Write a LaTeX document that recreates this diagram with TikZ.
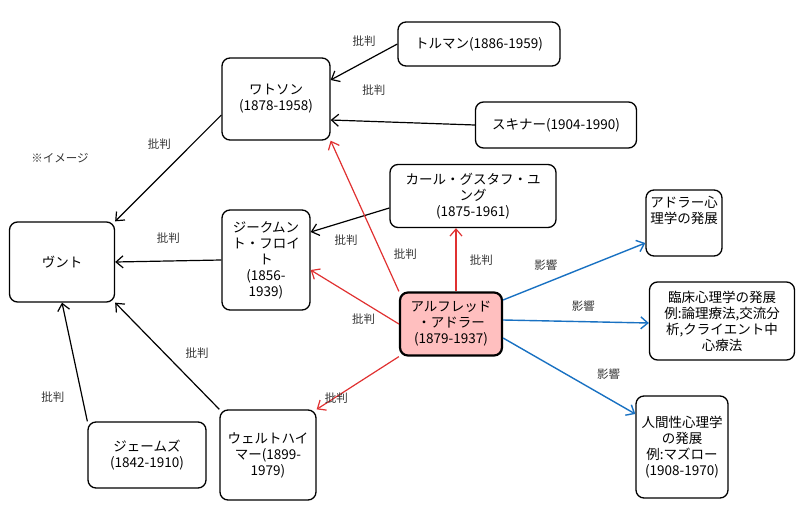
\documentclass[tikz,border=0pt]{standalone}
\usepackage{fontspec}
\setmainfont{Noto Sans CJK JP}
\usetikzlibrary{arrows.meta}
\definecolor{critred}{HTML}{E03131}
\definecolor{inflblue}{HTML}{1971C2}
\begin{document}
\begin{tikzpicture}[
    x=1pt, y=-1pt,
    font=\fontsize{13.5}{16}\selectfont,
    block/.style={rectangle, draw, line width=1.3pt, rounded corners=8pt, align=center, inner sep=2pt},
    main/.style={block, line width=2.2pt, fill=red!25},
    arrow/.style={-{Straight Barb[length=7pt,width=12pt]}, line width=1.2pt},
    crit/.style={arrow, critred},
    infl/.style={arrow, line width=1.4pt, inflblue},
    lbl/.style={font=\fontsize{11.5}{13}\selectfont, text=black!80}
]
\useasboundingbox (0,0) rectangle (800,508);
\node[block, minimum width=105pt, minimum height=80pt] (wundt) at (62,262) {ヴント};
\node[block, minimum width=108pt, minimum height=82pt] (watson) at (276,99) {ワトソン\\(1878-1958)};
\node[block, minimum width=162pt, minimum height=44pt] (tolman) at (479,44) {トルマン(1886-1959)};
\node[block, minimum width=161pt, minimum height=46pt] (skinner) at (556,125) {スキナー(1904-1990)};
\node[block, minimum width=88pt, minimum height=100pt] (freud) at (266,260) {ジークムン\\ト・フロイ\\ト\\(1856-\\1939)};
\node[block, minimum width=166pt, minimum height=63pt] (jung) at (473,196) {カール・グスタフ・ユ\\ング\\(1875-1961)};
\node[main, minimum width=102pt, minimum height=63pt] (adler) at (451,324) {アルフレッド\\・アドラー\\(1879-1937)};
\node[block, minimum width=76pt, minimum height=66pt] (apsy) at (684,223) {アドラー心\\理学の発展\\[10pt]};
\node[block, minimum width=145pt, minimum height=78pt] (clin) at (722,321) {臨床心理学の発展\\例:論理療法,交流分\\析,クライエント中\\心療法};
\node[block, minimum width=92pt, minimum height=102pt] (human) at (682,447) {人間性心理学\\の発展\\例:マズロー\\(1908-1970)};
\node[block, minimum width=96pt, minimum height=90pt] (wert) at (268,455) {ウェルトハイ\\マー(1899-\\1979)};
\node[block, minimum width=118pt, minimum height=66pt] (james) at (147,455) {ジェームズ\\(1842-1910)};
\node[lbl] (note) at (60,158) {※イメージ};

\draw[arrow] (watson.west |- 0,115) -- (wundt.north east) node[lbl, pos=0.4, above left=4pt] {批判};
\draw[arrow] (tolman.west) -- (watson.east |- 0,80) node[lbl, pos=0.5, above=12pt] {批判};
\draw[arrow] (skinner.west) -- (watson.east |- 0,120) node[lbl, pos=0.7, above=22pt] {批判};
\draw[arrow] (freud.west) -- (wundt.east) node[lbl, pos=0.5, above=14pt] {批判};
\draw[arrow] (jung.west |- 0,208) -- (freud.east |- 0,232) node[lbl, pos=0.55, below=10pt] {批判};
\draw[arrow] (wert.north west) -- (wundt.south east) node[lbl, pos=0.4, above right=4pt] {批判};
\draw[arrow] (james.north west) -- (wundt.south) node[lbl, pos=0.2, left=14pt] {批判};

\draw[crit] (adler.north west) -- (watson.south east) node[lbl, text=black!80, pos=0.25, right=8pt] {批判};
\draw[crit] (adler.north -| 456,0) -- (jung.south -| 456,0) node[lbl, text=black!80, pos=0.5, right=10pt] {批判};
\draw[crit] (adler.west) -- (freud.east |- 0,270) node[lbl, text=black!80, pos=0.4, below=8pt] {批判};
\draw[crit] (adler.south west) -- (wert.north east) node[lbl, text=black!80, pos=0.5, below left=6pt] {批判};

\draw[infl] (adler.east |- 0,300) -- (apsy.west |- 0,243) node[lbl, pos=0.3, above=8pt] {影響};
\draw[infl] (adler.east |- 0,320) -- (clin.west |- 0,323) node[lbl, pos=0.55, above=6pt] {影響};
\draw[infl] (adler.east |- 0,338) -- (human.west |- 0,414) node[lbl, pos=0.65, above right=4pt] {影響};
\end{tikzpicture}
\end{document}
